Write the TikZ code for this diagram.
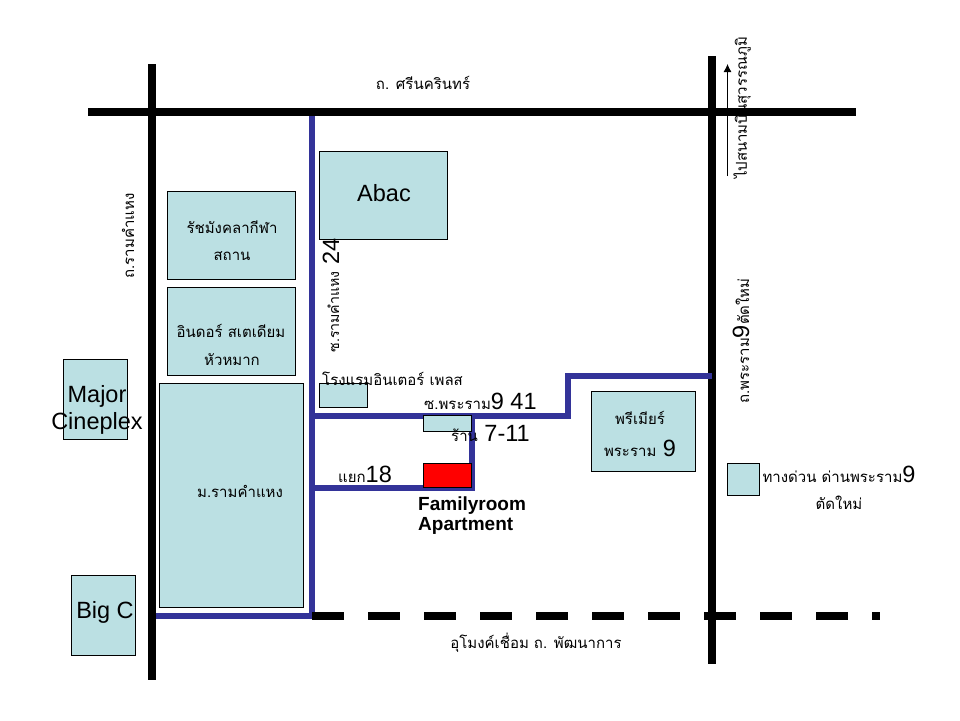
\documentclass[tikz,border=0pt]{standalone}
\usetikzlibrary{arrows.meta}
\usepackage{fontspec}
\setmainfont{Liberation Sans}
\newfontfamily\thaifont[Script=Thai]{Loma}
\newcommand{\tf}[1]{{\thaifont\fontsize{15}{18}\selectfont #1}}
\definecolor{boxfill}{HTML}{BBE0E3}
\definecolor{lane}{HTML}{333399}
\tikzset{
  road/.style={line width=8pt,black},
  lanepath/.style={line width=6pt,lane},
  place/.style={draw=black,fill=boxfill,line width=0.8pt,outer sep=0pt,anchor=north west,xshift=-0.3pt,yshift=0.3pt},
  lbl/.style={inner sep=0pt,align=center,font=\fontsize{23.5}{27}\selectfont},
}
\begin{document}
\begin{tikzpicture}[x=1pt,y=-1pt]
\useasboundingbox (0,0) rectangle (960,720);
\fill[white] (0,0) rectangle (960,720);
% road ends
\coordinate (lt) at (152,64); \coordinate (lb) at (152,680);
\coordinate (rt) at (712,56); \coordinate (rb) at (712,664);
\coordinate (tl) at (88,112); \coordinate (tr) at (856,112);
\coordinate (dl) at (312,616); \coordinate (dr) at (880,616);
\coordinate (a) at (312,112); \coordinate (b) at (156,616);
\coordinate (c) at (312,416); \coordinate (d) at (568,416);
\coordinate (e) at (568,376); \coordinate (f) at (712,376);
\coordinate (g) at (312,488); \coordinate (h) at (472,488); \coordinate (i) at (472,416);
\coordinate (j) at (727.5,176); \coordinate (k) at (727.5,64);
% boxes
\node[place,minimum width=127.2pt,minimum height=87.2pt] (abac) at (320,152) {};
\node[place,minimum width=127.2pt,minimum height=87.2pt] (rajamangala) at (168,192) {};
\node[place,minimum width=127.2pt,minimum height=87.2pt] (indoor) at (168,288) {};
\node[place,minimum width=143.2pt,minimum height=223.2pt] (ramu) at (160,384) {};
\node[place,minimum width=63.2pt,minimum height=79.2pt] (major) at (64,360) {};
\node[place,minimum width=63.2pt,minimum height=79.2pt] (bigc) at (72,576) {};
\node[place,minimum width=103.2pt,minimum height=79.2pt] (premier) at (592,392) {};
\node[place,minimum width=31.2pt,minimum height=31.2pt] (toll) at (728,464) {};
% lanes under the roads
\draw[lanepath] (a) -- (dl |- b);
\draw[lanepath] (b) -- (dl);
\draw[lanepath] (g) -- (h) -- (i);
% roads
\draw[road] (lt) -- (lb);
\draw[road] (rt) -- (rb);
\draw[road] (tl) -- (tr);
\draw[road,dash pattern=on 32pt off 24pt] (dl) -- (dr);
\draw[lanepath] (c) -- (d) -- (e) -- (f);
\draw[-{Latex[length=8pt,width=8pt]},line width=0.9pt] (j) -- (k);
% boxes over lanes
\node[place,minimum width=47.2pt,minimum height=23.2pt] (hotel) at (320,384) {};
\node[place,minimum width=47.2pt,minimum height=15.2pt] (seven) at (424,416) {};
\node[place,fill=red,minimum width=47.2pt,minimum height=23.2pt] (family) at (424,464) {};
% labels
\node[lbl] (t1) at (423,83) {\tf{ถ. ศรีนครินทร์}};
\node[lbl,rotate=90] (t2) at (128,236) {\tf{ถ.รามคำแหง}};
\node[lbl] (t3) at (384,193) {Abac};
\node[lbl] (t4) at (232,227) {\tf{รัชมังคลากีฬา}};
\node[lbl] (t5) at (232,256) {\tf{สถาน}};
\node[lbl] (t6) at (231,331) {\tf{อินดอร์ สเตเดียม}};
\node[lbl] (t7) at (232,360) {\tf{หัวหมาก}};
\node[lbl] (t8) at (240,491) {\tf{ม.รามคำแหง}};
\node[lbl,rotate=90] (t9) at (331,295.5) {{\thaifont\fontsize{14.2}{18}\selectfont ซ.รามคำแหง} 24};
\node[lbl,anchor=west] (t10) at (322,379) {\tf{โรงแรมอินเตอร์ เพลส}};
\node[lbl,anchor=west] (t11) at (424,401) {\tf{ซ.พระราม}9 41};
\node[lbl,anchor=west] (t12) at (451,433) {\tf{ร้าน} 7-11};
\node[lbl,anchor=west] (t13) at (338,474) {\tf{แยก}18};
\node[lbl] (t14) at (97,410) {Major\\Cineplex};
\node[lbl] (t15) at (105,612) {Big C};
\node[lbl] (t16) at (640,418) {\tf{พรีเมียร์}};
\node[lbl] (t17) at (640,448) {\tf{พระราม} 9};
\node[lbl,rotate=90] (t18) at (741,341) {\tf{ถ.พระราม}9\tf{ตัดใหม่}};
\node[lbl,rotate=90] (t19) at (742,108) {\tf{ไปสนามบินสุวรรณภูมิ}};
\node[lbl] (t20) at (839,474) {\tf{ทางด่วน ด่านพระราม}9};
\node[lbl] (t21) at (839,503) {\tf{ตัดใหม่}};
\node[lbl] (t22) at (536,643) {\tf{อุโมงค์เชื่อม ถ. พัฒนาการ}};
\node[inner sep=0pt,align=left,anchor=north west,font=\bfseries\fontsize{19}{20}\selectfont] (t23) at (418,497) {Familyroom\\Apartment};
\end{tikzpicture}
\end{document}
